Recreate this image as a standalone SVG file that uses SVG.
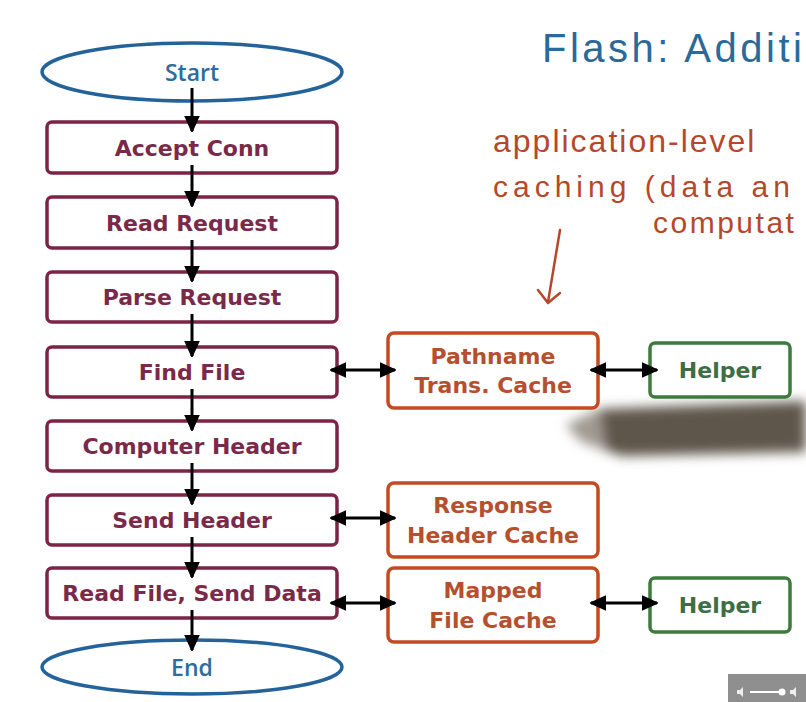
<svg xmlns="http://www.w3.org/2000/svg" width="806" height="702" viewBox="0 0 806 702">
  <defs>
    <marker id="ah" viewBox="0 0 10 10" refX="9.5" refY="5" markerWidth="16" markerHeight="16" markerUnits="userSpaceOnUse" orient="auto-start-reverse">
      <path d="M0,0.5 L10,5 L0,9.5 z" fill="#000" stroke="#000" stroke-width="0.8" stroke-linejoin="round"/>
    </marker>
    <filter id="blur" x="-20%" y="-60%" width="140%" height="220%">
      <feGaussianBlur stdDeviation="6"/>
    </filter>
    <style>
      .step rect { fill: #fff; stroke: #7b2445; stroke-width: 3.5; }
      .step text { fill: #7a2a48; font-family: "DejaVu Sans", sans-serif; font-weight: bold; font-size: 22px; text-anchor: middle; }
      .term ellipse { fill: #fff; stroke: #23639a; stroke-width: 3.5; }
      .term text { fill: #2d6c9c; font-family: "Open Sans", "DejaVu Sans", sans-serif; font-weight: 600; font-size: 23px; text-anchor: middle; }
      .cache rect { fill: #fff; stroke: #c24b22; stroke-width: 3.5; }
      .cache text { fill: #b5502f; font-family: "DejaVu Sans", sans-serif; font-weight: bold; font-size: 22px; text-anchor: middle; }
      .helper rect { fill: #fff; stroke: #3d7a3d; stroke-width: 3.5; }
      .helper text { fill: #3d6e45; font-family: "DejaVu Sans", sans-serif; font-weight: bold; font-size: 22px; text-anchor: middle; }
      .conn line { stroke: #000; stroke-width: 3; }
      .v line { marker-end: url(#ah); }
      .h line { marker-start: url(#ah); marker-end: url(#ah); }
      .hand { font-family: "Liberation Sans", sans-serif; }
    </style>
  </defs>
  <rect width="806" height="702" fill="#fff"/>

  <!-- handwritten annotations -->
  <text class="hand" x="542" y="62" font-size="40" fill="#2a6a9a" letter-spacing="3.5">Flash: Additi</text>
  <text class="hand" x="493" y="152" font-size="32" fill="#b5482a" letter-spacing="2">application-level</text>
  <text class="hand" x="493" y="197" font-size="30" fill="#b5482a" letter-spacing="5">caching (data an</text>
  <text class="hand" x="653" y="233" font-size="30" fill="#b5482a" letter-spacing="2.5">computat</text>
  <g fill="none" stroke="#b5482a" stroke-width="2.5" stroke-linecap="round" stroke-linejoin="round">
    <path d="M560,230 L548,302"/>
    <path d="M538,290 L548,303 L560,293"/>
  </g>

  <!-- pen shadow -->
  <g filter="url(#blur)">
    <polygon points="566,425 600,409 806,401 806,452 622,456 582,442" fill="#5e574b"/>
    <polygon points="566,425 600,410 606,450 582,442" fill="#a09a92"/>
  </g>

  <!-- nodes -->
  <g id="start" class="term"><ellipse cx="192" cy="72" rx="150" ry="29"/><text x="192" y="81">Start</text></g>
  <g id="accept" class="step"><rect x="47" y="122" width="290" height="51" rx="5"/><text x="192" y="156">Accept Conn</text></g>
  <g id="read-request" class="step"><rect x="47" y="197" width="290" height="51" rx="5"/><text x="192" y="231">Read Request</text></g>
  <g id="parse-request" class="step"><rect x="47" y="272" width="290" height="50" rx="5"/><text x="192" y="305">Parse Request</text></g>
  <g id="find-file" class="step"><rect x="47" y="347" width="290" height="50" rx="5"/><text x="192" y="380">Find File</text></g>
  <g id="compute-header" class="step"><rect x="47" y="421" width="290" height="50" rx="5"/><text x="192" y="454">Computer Header</text></g>
  <g id="send-header" class="step"><rect x="47" y="495" width="290" height="50" rx="5"/><text x="192" y="528">Send Header</text></g>
  <g id="read-file" class="step"><rect x="47" y="568" width="290" height="50" rx="5"/><text x="192" y="601">Read File, Send Data</text></g>
  <g id="end" class="term"><ellipse cx="192" cy="667" rx="150" ry="27"/><text x="192" y="676">End</text></g>

  <g id="pathname-cache" class="cache"><rect x="388" y="333" width="210" height="75" rx="6"/><text x="493" y="364">Pathname</text><text x="493" y="393">Trans. Cache</text></g>
  <g id="response-cache" class="cache"><rect x="388" y="483" width="210" height="74" rx="6"/><text x="493" y="513">Response</text><text x="493" y="543">Header Cache</text></g>
  <g id="mapped-cache" class="cache"><rect x="388" y="568" width="210" height="74" rx="6"/><text x="493" y="598">Mapped</text><text x="493" y="628">File Cache</text></g>

  <g id="helper1" class="helper"><rect x="650" y="343" width="140" height="54" rx="5"/><text x="720" y="378">Helper</text></g>
  <g id="helper2" class="helper"><rect x="650" y="578" width="140" height="54" rx="5"/><text x="720" y="613">Helper</text></g>

  <!-- connectors (drawn over the node borders, as in the reference) -->
  <g id="connectors" class="conn">
    <g class="v">
      <line x1="192" y1="88" x2="192" y2="131"/>
      <line x1="192" y1="165" x2="192" y2="206"/>
      <line x1="192" y1="240" x2="192" y2="281"/>
      <line x1="192" y1="314" x2="192" y2="356"/>
      <line x1="192" y1="389" x2="192" y2="430"/>
      <line x1="192" y1="463" x2="192" y2="504"/>
      <line x1="192" y1="537" x2="192" y2="577"/>
      <line x1="192" y1="610" x2="192" y2="650"/>
    </g>
    <g class="h">
      <line x1="331" y1="370" x2="395" y2="370"/>
      <line x1="591" y1="370" x2="657" y2="370"/>
      <line x1="331" y1="518" x2="395" y2="518"/>
      <line x1="331" y1="603" x2="395" y2="603"/>
      <line x1="591" y1="603" x2="657" y2="603"/>
    </g>
  </g>

  <!-- video control bar -->
  <g>
    <rect x="728" y="674" width="78" height="28" fill="#8f8f8f"/>
    <line x1="750" y1="692" x2="782" y2="692" stroke="#fff" stroke-width="2"/>
    <circle cx="782" cy="692" r="3.5" fill="#fff"/>
    <polygon points="737,690 740,690 743,687 743,697 740,694 737,694" fill="#eee"/>
    <polygon points="790,690 793,690 796,687 796,697 793,694 790,694" fill="#eee"/>
  </g>
</svg>
